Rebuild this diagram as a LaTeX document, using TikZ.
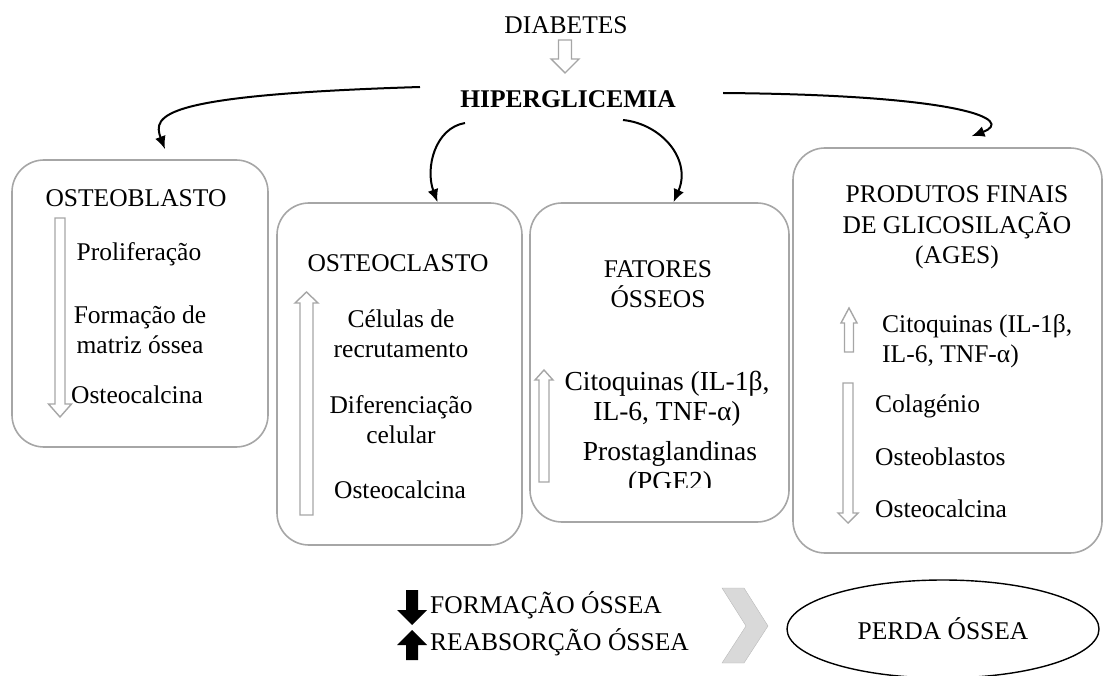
\documentclass[tikz,border=0pt]{standalone}
\usepackage{fontspec}
\setmainfont{Liberation Serif}
\usetikzlibrary{arrows.meta,shapes.geometric}

\begin{document}
\begin{tikzpicture}[x=1pt,y=-1pt,
	every node/.style={font=\fontsize{25.5}{30}\selectfont, inner sep=0pt},
	big/.style={font=\fontsize{27.5}{30}\selectfont},
	cellbox/.style={draw=gray!70, line width=1.6pt, rounded corners=32pt},
	hollow/.style={draw=gray!70, line width=1.4pt, fill=white},
	filled/.style={fill=black},
	chev/.style={draw=gray!55, fill=gray!30},
	conn/.style={line width=2pt, -{Latex[length=13pt,width=11pt]}}]
	\useasboundingbox (0,0) rectangle (1110,676);
	% top
	\node[anchor=base] (diab) at (566,34) {DIABETES};
	\node[anchor=base, font=\fontsize{25.5}{30}\selectfont\bfseries] (hiper) at (568,108) {HIPERGLICEMIA};
	% the four boxes
	\node[cellbox, minimum width=256pt, minimum height=287pt] (ob) at (140,303.5) {};
	\node[cellbox, minimum width=245pt, minimum height=342pt] (oc) at (399.5,374) {};
	\node[cellbox, minimum width=259pt, minimum height=319pt] (fo) at (659.5,362.5) {};
	\node[cellbox, minimum width=309pt, minimum height=405pt] (ag) at (947.5,350.5) {};
	% osteoblasto (base of a two-line node = its last line)
	\node[anchor=base] (obt) at (136,207) {OSTEOBLASTO};
	\node[anchor=base] (ob1) at (139,260) {Proliferação};
	\node[anchor=base, align=center] (ob2) at (140,353) {Formação de\\matriz óssea};
	\node[anchor=base] (ob3) at (137,403) {Osteocalcina};
	% osteoclasto
	\node[anchor=base] (oct) at (398,272) {OSTEOCLASTO};
	\node[anchor=base, align=center] (oc1) at (401,357) {Células de\\recrutamento};
	\node[anchor=base, align=center] (oc2) at (401,443) {Diferenciação\\celular};
	\node[anchor=base] (oc3) at (400,498) {Osteocalcina};
	% fatores
	\node[anchor=base, align=center] (fot) at (658,307) {FATORES\\ÓSSEOS};
	\node[anchor=base, align=center, big] (fo1) at (667,420) {Citoquinas (IL-1β,\\IL-6, TNF-α)};
	\begin{scope}
		\clip (530,430) rectangle (789,487);
		\node[anchor=base, align=center, big] (fo2) at (670,490) {Prostaglandinas\\(PGE2)};
	\end{scope}
	% ages
	\node[anchor=base, align=center] (agt) at (957,263) {PRODUTOS FINAIS\\DE GLICOSILAÇÃO\\(AGES)};
	\node[anchor=base west, align=left] (ag1) at (882,362) {Citoquinas (IL-1β,\\ IL-6, TNF-α)};
	\node[anchor=base west] (ag2) at (875,412) {Colagénio};
	\node[anchor=base west] (ag3) at (875,465) {Osteoblastos};
	\node[anchor=base west] (ag4) at (875,517) {Osteocalcina};
	% block arrows: centre/shaft/head/tail/head base/tip
	\foreach \c/\w/\h/\ya/\yh/\yb in {565/6.5/14/40/59/73, 60/5/11.5/218/404/417, 306.5/6.5/11.5/515/303/292,
		544/5/9/482/380/370, 849/4.5/8/352/323/308, 848/5/10/383/513/523}
		\draw[hollow] ({\c-\w},\ya) -- ({\c+\w},\ya) -- ({\c+\w},\yh) -- ({\c+\h},\yh) -- (\c,\yb) -- ({\c-\h},\yh) -- ({\c-\w},\yh) -- cycle;
	\foreach \c/\w/\h/\ya/\yh/\yb in {412/6/15/590/610/625, 412/6/15/660/645/630}
		\fill[filled] ({\c-\w},\ya) -- ({\c+\w},\ya) -- ({\c+\w},\yh) -- ({\c+\h},\yh) -- (\c,\yb) -- ({\c-\h},\yh) -- ({\c-\w},\yh) -- cycle;
	% connectors
	\coordinate (h1) at (420,87);
	\coordinate (h2) at (465,123);
	\coordinate (h3) at (623,120);
	\coordinate (h4) at (723,93);
	\draw[conn] (h1) .. controls (160,95) and (152,115) .. ([xshift=25pt,yshift=10pt]ob.north);
	\draw[conn] (h2) .. controls (435,128) and (425,168) .. ([xshift=38pt]oc.north);
	\draw[conn] (h3) .. controls (662,124) and (692,160) .. ([xshift=14pt]fo.north);
	\draw[conn] (h4) .. controls (965,95) and (1015,120) .. ([xshift=24pt,yshift=11pt]ag.north);
	% bottom
	\node[anchor=base west] (form) at (430,613) {FORMAÇÃO ÓSSEA};
	\node[anchor=base west] (reab) at (430,650) {REABSORÇÃO ÓSSEA};
	\draw[chev] (722,588) -- (744,588) -- (768,626) -- (744,663) -- (722,663) -- (746,626) -- cycle;
	\node[ellipse, draw, line width=1.4pt, minimum width=312pt, minimum height=98pt] (perda) at (943,629) {PERDA ÓSSEA};
\end{tikzpicture}
\end{document}
